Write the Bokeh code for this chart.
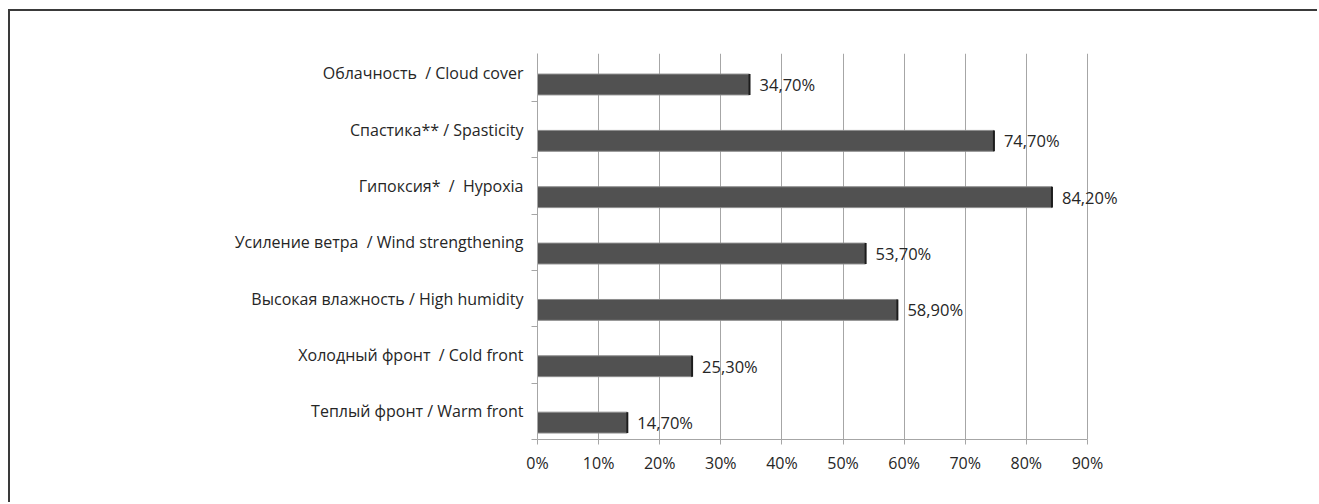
from bokeh.plotting import figure
from bokeh.models import Range1d, FixedTicker, PrintfTickFormatter, ColumnDataSource
from bokeh.core.properties import value
from bokeh.embed import file_html
from bokeh.resources import INLINE

NB = "\u00a0"  # keeps doubled spaces visible in SVG text

# Categories listed bottom to top
categories = [
    "Теплый фронт / Warm front",
    "Холодный фронт " + NB + "/ Cold front",
    "Высокая влажность / High humidity",
    "Усиление ветра " + NB + "/ Wind strengthening",
    "Гипоксия* " + NB + "/ " + NB + "Hypoxia",
    "Спастика** / Spasticity",
    "Облачность " + NB + "/ Cloud cover",
]
percents = [14.7, 25.3, 58.9, 53.7, 84.2, 74.7, 34.7]
x_ticks = [0, 10, 20, 30, 40, 50, 60, 70, 80, 90]

FONT = "Open Sans"
TEXT_COLOR = "#262626"
GRID_COLOR = "#a6a6a6"

n = len(categories)
bar_h = 0.37
centers = [i + 0.30 for i in range(n)]
labels = [f"{v:.2f}".replace(".", ",") + "%" for v in percents]

src = ColumnDataSource(dict(
    y=centers,
    v=percents,
    lab=labels,
    y0=[c - bar_h / 2 for c in centers],
    y1=[c + bar_h / 2 for c in centers],
))

p = figure(
    width=1309, height=493,
    x_range=Range1d(0, 100), y_range=Range1d(0, 6.85),
    output_backend="svg", toolbar_location=None,
    min_border_left=527, min_border_right=171,
    min_border_top=42, min_border_bottom=65,
    styles={
        "margin-left": "8px", "margin-top": "9px",
        "border-left": "2px solid #3a3a3a", "border-top": "2px solid #3a3a3a",
    },
)
p.outline_line_color = None
p.background_fill_color = "white"
p.border_fill_color = "white"

# Bars with a light rim and a dark end cap
p.hbar(y="y", height=bar_h, left=0, right="v", source=src,
       fill_color="#515151", line_color="#8c8c8c", line_width=1)
p.segment(x0="v", x1="v", y0="y0", y1="y1", source=src,
          line_color="#1c1c1c", line_width=2)

# Value labels to the right of each bar
p.text(x="v", y="y", text="lab", source=src, x_offset=10,
       text_baseline="middle", text_align="left",
       text_font=value(FONT), text_font_size="16.5px", text_color=TEXT_COLOR)

# X axis: percentage scale
xa = p.xaxis[0]
xa.ticker = FixedTicker(ticks=x_ticks)
xa.formatter = PrintfTickFormatter(format="%d%%")
xa.bounds = (0, 90)
xa.axis_line_color = GRID_COLOR
xa.major_tick_line_color = GRID_COLOR
xa.major_tick_out = 5
xa.major_tick_in = 0
xa.minor_tick_line_color = None
xa.major_label_standoff = 7
xa.major_label_text_font = FONT
xa.major_label_text_font_size = "16px"
xa.major_label_text_color = TEXT_COLOR

# Y axis: category names at band centres, ticks at band edges
ya = p.yaxis[0]
ya.ticker = FixedTicker(ticks=[i + 0.5 for i in range(n)],
                        minor_ticks=list(range(n)))
ya.major_label_overrides = {i + 0.5: c for i, c in enumerate(categories)}
ya.axis_line_color = GRID_COLOR
ya.major_tick_line_color = None
ya.major_tick_out = 6
ya.major_tick_in = 0
ya.minor_tick_line_color = GRID_COLOR
ya.minor_tick_out = 6
ya.minor_tick_in = 0
ya.major_label_standoff = 8
ya.major_label_text_font = FONT
ya.major_label_text_font_size = "16px"
ya.major_label_text_color = TEXT_COLOR

p.xgrid.grid_line_color = GRID_COLOR
p.xgrid.grid_line_width = 1
p.ygrid.grid_line_color = None

open("out.html", "w").write(file_html(p, INLINE))
